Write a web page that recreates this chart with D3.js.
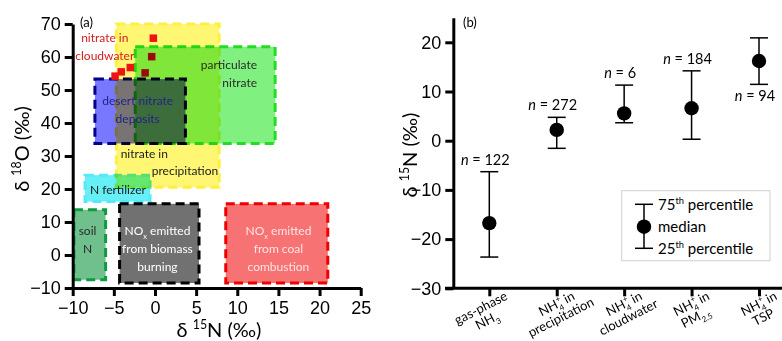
<!DOCTYPE html>
<html>
<head>
<meta charset="utf-8">
<script src="https://cdn.jsdelivr.net/npm/d3@7"></script>
<style>
  body { margin: 0; background: #fff; }
  svg { font-family: Lato, "Open Sans", sans-serif; }
  .axis path, .axis line { stroke: #000; stroke-width: 3; }
  .axis text { font-size: 18px; fill: #000; }
</style>
</head>
<body>
<div id="main"></div>
<script>
!(function () {
  'use strict';

  // ---- data, panel (a): d15N / d18O source ranges ----
  const aXTicks = [-10, -5, 0, 5, 10, 15, 20, 25];
  const aYTicks = [-10, 0, 10, 20, 30, 40, 50, 60, 70];

  // source boxes [x0, x1] d15N, [y0, y1] d18O
  const boxNames = ['soil', 'biomass', 'coal', 'precip', 'fertilizer', 'particulate', 'desert'];
  const boxX = [[-9.85, -6.0], [-4.3, 5.35], [8.6, 21.0], [-4.7, 7.8], [-8.5, -0.6], [-2.4, 14.6], [-7.3, 3.7]];
  const boxY = [[-7.5, 13.7], [-8.5, 15.5], [-8.5, 15.5], [20.5, 70], [16.2, 24.2], [33.8, 63.1], [33.8, 53.3]];

  // nitrate in cloudwater samples
  const cloudwaterRed = [[-0.2, 65.7], [-3.0, 56.8], [-4.1, 55.5], [-4.85, 54.2]];
  const cloudwaterDark = [[-0.4, 60.1], [-1.2, 55.2]];

  // annotations: text lines, anchor point in data units
  const boxLabels = [
    { lines: ['nitrate in', 'cloudwater'], x: -6.1, y: 66.0, color: 'cloud' },
    { lines: ['particulate', 'nitrate'], x: 12.4, y: 57.6, color: 'particulate', anchor: 'end' },
    { lines: ['desert nitrate', 'deposits'], x: -2.1, y: 46.7, color: 'desert' },
    { lines: ['nitrate in'], x: -1.3, y: 30.9, color: 'precip' },
    { lines: ['precipitation'], x: 3.65, y: 25.5, color: 'precip' },
    { lines: ['N fertilizer'], x: -4.5, y: 20.0, color: 'fertilizer' },
    { lines: ['soil', 'N'], x: -8.2, y: 7.3, color: 'soil' },
    { lines: ['NO_{x} emitted', 'from biomass', 'burning'], x: 0.3, y: 7.3, color: 'biomass' },
    { lines: ['NO_{x} emitted', 'from coal', 'combustion'], x: 15.0, y: 7.3, color: 'coal' }
  ];

  // ---- data, panel (b): d15N of reduced N ----
  const categories = ['gas', 'precipitation', 'cloudwater', 'pm25', 'tsp'];
  const categoryLabels = [
    ['gas-phase', 'NH_{3}'],
    ['NH_{4}^{+} in', 'precipitation'],
    ['NH_{4}^{+} in', 'cloudwater'],
    ['NH_{4}^{+} in', 'PM_{2.5}'],
    ['NH_{4}^{+} in', 'TSP']
  ];
  const medians = [-16.75, 2.2, 5.55, 6.6, 16.2];
  const q75 = [-6.3, 4.75, 11.3, 14.2, 20.9];
  const q25 = [-23.65, -1.55, 3.65, 0.3, 11.45];
  const counts = [122, 272, 6, 184, 94];
  const countSide = ['above', 'above', 'above', 'above', 'below'];
  const bYTicks = [-30, -20, -10, 0, 10, 20];
  const legendLabels = ['75^{th} percentile', 'median', '25^{th} percentile'];

  // ---- styles ----
  const boxFill = {
    soil: '#70c08e', biomass: '#717171', coal: '#f77272', precip: '#fff674',
    fertilizer: '#66f0f6', particulate: '#80f080', desert: '#7878ff'
  };
  const boxStroke = {
    soil: '#119944', biomass: '#000000', coal: '#ee0000', precip: '#fff040',
    fertilizer: '#55e8ff', particulate: '#22dd22', desert: '#000088'
  };
  const labelColor = {
    cloud: '#d41c1c', particulate: '#2a2a2a', desert: '#22228a', precip: '#1a1a1a',
    fertilizer: '#1a1a1a', soil: '#2a2a2a', biomass: '#ffffff', coal: '#ffe4e4'
  };

  const width = 782, height = 341;
  const svg = d3.select('#main').append('svg')
    .attr('width', width)
    .attr('height', height);

  // rich text: _{sub} ^{sup}; sup right after sub is stacked over it
  function rich(textSel, str, fs) {
    const parts = str.split(/(_\{[^}]*\}|\^\{[^}]*\})/).filter(s => s.length);
    let shift = 0, lastSubW = 0, lastWasSub = false;
    parts.forEach(p => {
      let target = 0, size = fs, content = p, dx = 0;
      if (p[0] === '_' && p[1] === '{') {
        target = fs * 0.3; size = fs * 0.62; content = p.slice(2, -1);
      } else if (p[0] === '^' && p[1] === '{') {
        target = -fs * 0.42; size = fs * 0.62; content = p.slice(2, -1);
        if (lastWasSub) dx = -lastSubW;
      }
      const t = textSel.append('tspan')
        .attr('dy', target - shift)
        .attr('font-size', size)
        .text(content);
      if (dx) t.attr('dx', dx);
      lastWasSub = p[0] === '_' && p[1] === '{';
      lastSubW = lastWasSub ? content.length * size * 0.55 : 0;
      shift = target;
    });
    return textSel;
  }

  // =========== panel (a) ===========
  const xA = d3.scaleLinear().domain([-10, 25]).range([72.7, 360.7]);
  const yA = d3.scaleLinear().domain([-10, 70]).range([288, 24]);

  const boxes = boxNames.map((n, i) => ({ name: n, x: boxX[i], y: boxY[i] }));

  svg.append('g')
    .attr('class', 'boxes')
    .selectAll('rect')
    .data(boxes)
    .enter()
    .append('rect')
    .attr('x', d => xA(d.x[0]))
    .attr('y', d => yA(d.y[1]))
    .attr('width', d => xA(d.x[1]) - xA(d.x[0]))
    .attr('height', d => yA(d.y[0]) - yA(d.y[1]))
    .attr('fill', d => boxFill[d.name])
    .attr('stroke', d => boxStroke[d.name])
    .attr('stroke-width', 3)
    .attr('stroke-dasharray', '9,5')
    .style('mix-blend-mode', 'multiply');

  // cloudwater squares
  const sq = 7.5;
  svg.append('g').selectAll('rect')
    .data(cloudwaterRed)
    .enter().append('rect')
    .attr('x', d => xA(d[0]) - sq / 2)
    .attr('y', d => yA(d[1]) - sq / 2)
    .attr('width', sq).attr('height', sq)
    .attr('fill', '#ee1414');
  svg.append('g').selectAll('rect')
    .data(cloudwaterDark)
    .enter().append('rect')
    .attr('x', d => xA(d[0]) - sq / 2)
    .attr('y', d => yA(d[1]) - sq / 2)
    .attr('width', sq).attr('height', sq)
    .attr('fill', '#9a0a0a');

  // box labels
  boxLabels.forEach(lab => {
    lab.lines.forEach((line, j) => {
      const t = svg.append('text')
        .attr('x', xA(lab.x))
        .attr('y', yA(lab.y) + 4.5 + j * 18)
        .attr('text-anchor', lab.anchor || 'middle')
        .attr('font-size', 12)
        .attr('fill', labelColor[lab.color]);
      rich(t, line, 12);
    });
  });

  // axes (a)
  svg.append('g')
    .attr('class', 'axis')
    .attr('transform', 'translate(' + xA(-10) + ',0)')
    .call(d3.axisLeft(yA).tickValues(aYTicks).tickSize(8).tickSizeOuter(0).tickPadding(4));

  svg.append('g')
    .attr('class', 'axis')
    .attr('transform', 'translate(0,' + yA(-10) + ')')
    .call(d3.axisBottom(xA).tickValues(aXTicks).tickSize(8).tickSizeOuter(0).tickPadding(5));

  svg.append('text').attr('x', 80).attr('y', 27).attr('font-size', 13).text('(a)');

  rich(svg.append('text')
    .attr('text-anchor', 'middle')
    .attr('transform', 'translate(29,149) rotate(-90)')
    .attr('font-size', 20), '\u03b4 ^{18}O (\u2030)', 20);

  rich(svg.append('text')
    .attr('text-anchor', 'middle')
    .attr('x', 219).attr('y', 337)
    .attr('font-size', 20), '\u03b4 ^{15}N (\u2030)', 20);

  // =========== panel (b) ===========
  const xB = d3.scalePoint().domain(categories).range([489.3, 759]);
  const yB = d3.scaleLinear().domain([-30, 25]).range([288.3, 17.7]);
  const cap = 9;

  const stats = categories.map((c, i) => ({
    c: c, med: medians[i], hi: q75[i], lo: q25[i], n: counts[i], side: countSide[i]
  }));

  const bars = svg.append('g').attr('class', 'errorbars')
    .selectAll('g').data(stats).enter().append('g');

  bars.append('line')
    .attr('x1', d => xB(d.c)).attr('x2', d => xB(d.c))
    .attr('y1', d => yB(d.hi)).attr('y2', d => yB(d.lo))
    .attr('stroke', '#000').attr('stroke-width', 1.5);
  bars.append('line')
    .attr('x1', d => xB(d.c) - cap).attr('x2', d => xB(d.c) + cap)
    .attr('y1', d => yB(d.hi)).attr('y2', d => yB(d.hi))
    .attr('stroke', '#000').attr('stroke-width', 1.5);
  bars.append('line')
    .attr('x1', d => xB(d.c) - cap).attr('x2', d => xB(d.c) + cap)
    .attr('y1', d => yB(d.lo)).attr('y2', d => yB(d.lo))
    .attr('stroke', '#000').attr('stroke-width', 1.5);
  bars.append('circle')
    .attr('cx', d => xB(d.c)).attr('cy', d => yB(d.med))
    .attr('r', 7.2).attr('fill', '#000');

  const nText = bars.append('text')
    .attr('x', d => xB(d.c) - 4)
    .attr('y', d => d.side === 'above' ? yB(d.hi) - 7 : yB(d.lo) + 17)
    .attr('text-anchor', 'middle')
    .attr('font-size', 14.5);
  nText.append('tspan').attr('font-style', 'italic').text('n');
  nText.append('tspan').text(d => ' = ' + d.n);

  // axes (b)
  svg.append('g')
    .attr('class', 'axis')
    .attr('transform', 'translate(453.3,0)')
    .call(d3.axisLeft(yB).tickValues(bYTicks).tickSize(8).tickSizeOuter(0).tickPadding(4));

  const xAxisB = svg.append('g')
    .attr('class', 'axis')
    .attr('transform', 'translate(0,' + yB(-30) + ')')
    .call(d3.axisBottom(xB).tickSize(8).tickSizeOuter(0).tickFormat(''));
  xAxisB.select('.domain').remove();
  xAxisB.append('line').attr('x1', 445).attr('x2', 782).attr('y1', 0).attr('y2', 0);

  // rotated category labels: first line ends near the tick, second centred under it
  categoryLabels.forEach((lines, i) => {
    const g = svg.append('g')
      .attr('transform', 'translate(' + (xB(categories[i]) + 19) + ',299) rotate(-27)');
    const first = rich(g.append('text')
      .attr('x', 0).attr('y', 0)
      .attr('text-anchor', 'end')
      .attr('font-size', 13), lines[0], 13);
    const w = first.node().getComputedTextLength();
    rich(g.append('text')
      .attr('x', -w / 2).attr('y', 14)
      .attr('text-anchor', 'middle')
      .attr('font-size', 13), lines[1], 13);
  });

  svg.append('text').attr('x', 463).attr('y', 27).attr('font-size', 13).text('(b)');

  rich(svg.append('text')
    .attr('text-anchor', 'middle')
    .attr('transform', 'translate(417,155) rotate(-90)')
    .attr('font-size', 20), '\u03b4 ^{15}N (\u2030)', 20);

  // legend
  const lg = svg.append('g').attr('class', 'legend');
  lg.append('rect')
    .attr('x', 621.7).attr('y', 190.7).attr('width', 148.3).attr('height', 70)
    .attr('fill', '#fff').attr('stroke', '#d0d0d0').attr('stroke-width', 1);
  const lx = 644, lTop = 204.3, lMid = 226.7, lBot = 248.3;
  lg.append('line').attr('x1', lx).attr('x2', lx).attr('y1', lTop).attr('y2', lBot)
    .attr('stroke', '#000').attr('stroke-width', 1.5);
  lg.append('line').attr('x1', lx - cap).attr('x2', lx + cap).attr('y1', lTop).attr('y2', lTop)
    .attr('stroke', '#000').attr('stroke-width', 1.5);
  lg.append('line').attr('x1', lx - cap).attr('x2', lx + cap).attr('y1', lBot).attr('y2', lBot)
    .attr('stroke', '#000').attr('stroke-width', 1.5);
  lg.append('circle').attr('cx', lx).attr('cy', lMid).attr('r', 7.2).attr('fill', '#000');
  [lTop, lMid, lBot].forEach((y, i) => {
    rich(lg.append('text')
      .attr('x', 658).attr('y', y + 5.5)
      .attr('font-size', 15), legendLabels[i], 15);
  });
}());
</script>
</body>
</html>
